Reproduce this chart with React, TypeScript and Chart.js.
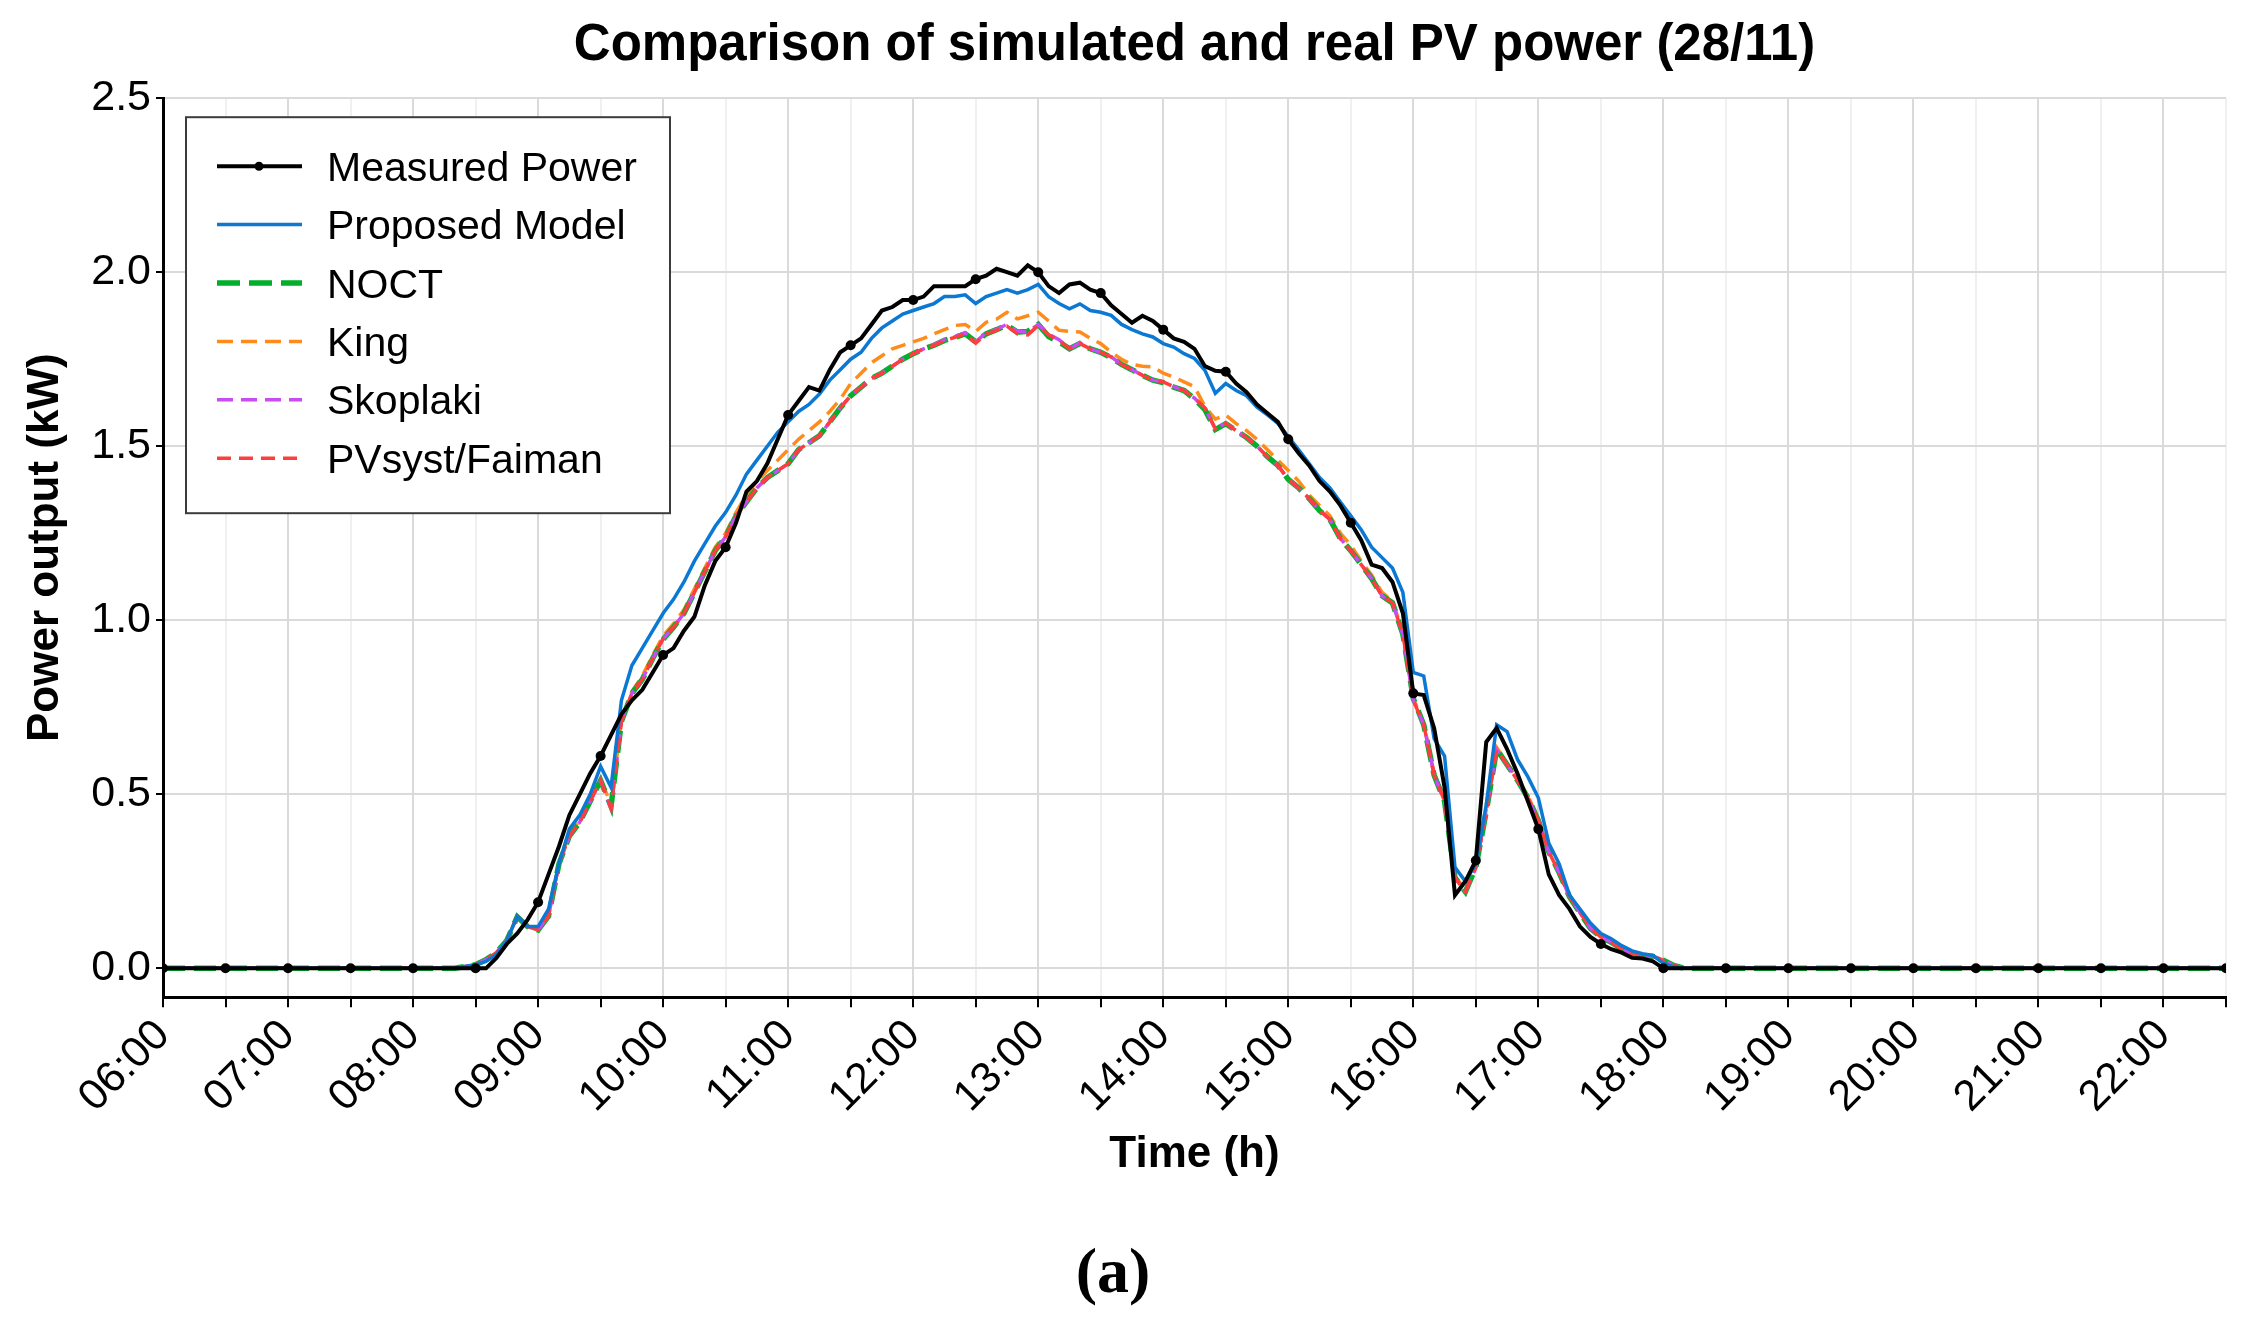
import React, { useEffect, useRef } from 'react';
import { Chart, registerables } from 'chart.js';

Chart.register(...registerables);

// ---------------- data ----------------
const titleText = 'Comparison of simulated and real PV power (28/11)';
const xTitle = 'Time (h)';
const yTitle = 'Power output (kW)';
const panelLabel = '(a)';

const seriesNames = ['Measured Power', 'Proposed Model', 'NOCT', 'King', 'Skoplaki', 'PVsyst/Faiman'];

// daytime samples: every 5 minutes starting 08:00
const dayStartHour = 8;
const stepMinutes = 5;

// night-time samples (hours) and their power (kW)
const nightMorningHours = [6, 6.5, 7, 7.5];
const nightMorningPower = [0, 0, 0, 0];
const nightEveningHours = [18.5, 19, 19.5, 20, 20.5, 21, 21.5, 22, 22.5];
const nightEveningPower = [0, 0, 0, 0, 0, 0, 0, 0, 0];

const measured = [
  0, 0, 0, 0, 0, 0, 0, 0, 0.03, 0.07, 0.10, 0.14,
  0.19, 0.27, 0.35, 0.44, 0.50, 0.56, 0.61, 0.67, 0.73, 0.77, 0.80, 0.85,
  0.90, 0.92, 0.97, 1.01, 1.10, 1.17, 1.21, 1.28, 1.37, 1.40, 1.45, 1.52,
  1.59, 1.63, 1.67, 1.66, 1.72, 1.77, 1.79, 1.81, 1.85, 1.89, 1.90, 1.92,
  1.92, 1.93, 1.96, 1.96, 1.96, 1.96, 1.98, 1.99, 2.01, 2.00, 1.99, 2.02,
  2.00, 1.96, 1.94, 1.965, 1.97, 1.95, 1.94, 1.905, 1.88, 1.855, 1.875, 1.86,
  1.835, 1.81, 1.80, 1.78, 1.73, 1.717, 1.714, 1.68, 1.655, 1.62, 1.595, 1.57,
  1.52, 1.48, 1.445, 1.40, 1.37, 1.33, 1.28, 1.23, 1.16, 1.15, 1.11, 1.02,
  0.79, 0.785, 0.69, 0.52, 0.21, 0.25, 0.31, 0.65, 0.69, 0.63, 0.56, 0.48,
  0.40, 0.27, 0.21, 0.17, 0.12, 0.09, 0.07, 0.055, 0.045, 0.03, 0.028, 0.02,
  0, 0, 0,
];

const proposed = [
  0, 0, 0, 0, 0, 0.005, 0.01, 0.02, 0.04, 0.08, 0.15, 0.12,
  0.12, 0.17, 0.30, 0.40, 0.44, 0.50, 0.58, 0.52, 0.77, 0.87, 0.92, 0.97,
  1.02, 1.06, 1.11, 1.17, 1.22, 1.27, 1.31, 1.36, 1.42, 1.46, 1.50, 1.54,
  1.57, 1.60, 1.62, 1.65, 1.69, 1.72, 1.75, 1.77, 1.81, 1.84, 1.86, 1.88,
  1.89, 1.90, 1.91, 1.93, 1.93, 1.935, 1.91, 1.93, 1.94, 1.95, 1.94, 1.95,
  1.965, 1.93, 1.91, 1.895, 1.909, 1.89, 1.885, 1.876, 1.85, 1.835, 1.823, 1.814,
  1.795, 1.785, 1.766, 1.752, 1.718, 1.652, 1.68, 1.66, 1.645, 1.612, 1.59, 1.566,
  1.528, 1.49, 1.45, 1.41, 1.38, 1.34, 1.30, 1.26, 1.21, 1.18, 1.15, 1.08,
  0.85, 0.84, 0.66, 0.61, 0.29, 0.25, 0.30, 0.47, 0.70, 0.68, 0.60, 0.55,
  0.49, 0.36, 0.30, 0.21, 0.17, 0.13, 0.10, 0.085, 0.065, 0.05, 0.042, 0.037,
  0.014, 0.005, 0,
];

const noct = [
  0, 0, 0, 0, 0, 0.005, 0.01, 0.025, 0.045, 0.08, 0.148, 0.12,
  0.11, 0.15, 0.30, 0.38, 0.42, 0.48, 0.54, 0.465, 0.71, 0.79, 0.83, 0.89,
  0.945, 0.98, 1.02, 1.08, 1.14, 1.20, 1.24, 1.30, 1.34, 1.38, 1.41, 1.43,
  1.45, 1.49, 1.51, 1.53, 1.57, 1.61, 1.645, 1.67, 1.695, 1.71, 1.73, 1.75,
  1.766, 1.78, 1.79, 1.804, 1.813, 1.823, 1.80, 1.823, 1.835, 1.848, 1.828, 1.83,
  1.85, 1.815, 1.80, 1.78, 1.795, 1.78, 1.77, 1.755, 1.735, 1.72, 1.704, 1.69,
  1.683, 1.67, 1.66, 1.636, 1.605, 1.548, 1.565, 1.545, 1.525, 1.50, 1.47, 1.445,
  1.405, 1.38, 1.35, 1.315, 1.29, 1.235, 1.20, 1.16, 1.12, 1.07, 1.05, 0.96,
  0.775, 0.70, 0.555, 0.48, 0.26, 0.22, 0.29, 0.45, 0.63, 0.585, 0.54, 0.49,
  0.425, 0.335, 0.275, 0.205, 0.16, 0.115, 0.09, 0.075, 0.055, 0.042, 0.037, 0.034,
  0.023, 0.008, 0,
];

const king = [
  0, 0, 0, 0, 0, 0.005, 0.01, 0.025, 0.045, 0.08, 0.15, 0.12,
  0.11, 0.15, 0.30, 0.385, 0.425, 0.485, 0.545, 0.47, 0.715, 0.795, 0.84, 0.90,
  0.955, 0.99, 1.03, 1.09, 1.15, 1.21, 1.25, 1.31, 1.36, 1.40, 1.43, 1.46,
  1.49, 1.52, 1.545, 1.57, 1.60, 1.635, 1.68, 1.71, 1.74, 1.76, 1.78, 1.79,
  1.80, 1.81, 1.823, 1.835, 1.847, 1.85, 1.83, 1.856, 1.865, 1.885, 1.866, 1.875,
  1.885, 1.86, 1.833, 1.83, 1.828, 1.81, 1.795, 1.77, 1.75, 1.735, 1.73, 1.728,
  1.71, 1.699, 1.685, 1.671, 1.614, 1.578, 1.59, 1.565, 1.545, 1.52, 1.49, 1.46,
  1.43, 1.40, 1.36, 1.33, 1.30, 1.25, 1.215, 1.17, 1.13, 1.08, 1.055, 0.965,
  0.775, 0.705, 0.56, 0.485, 0.265, 0.225, 0.295, 0.455, 0.635, 0.59, 0.545, 0.495,
  0.43, 0.34, 0.28, 0.21, 0.165, 0.12, 0.092, 0.077, 0.057, 0.044, 0.038, 0.035,
  0.024, 0.008, 0,
];

const skoplaki = [
  0, 0, 0, 0, 0, 0.005, 0.01, 0.025, 0.045, 0.08, 0.15, 0.12,
  0.11, 0.15, 0.30, 0.38, 0.42, 0.48, 0.54, 0.46, 0.71, 0.79, 0.83, 0.89,
  0.947, 0.98, 1.02, 1.08, 1.14, 1.20, 1.24, 1.30, 1.34, 1.38, 1.41, 1.43,
  1.45, 1.49, 1.51, 1.53, 1.57, 1.61, 1.645, 1.67, 1.695, 1.71, 1.73, 1.75,
  1.766, 1.78, 1.792, 1.806, 1.815, 1.826, 1.80, 1.826, 1.836, 1.85, 1.83, 1.828,
  1.85, 1.822, 1.806, 1.78, 1.797, 1.78, 1.77, 1.757, 1.735, 1.72, 1.704, 1.69,
  1.685, 1.671, 1.66, 1.638, 1.61, 1.55, 1.566, 1.545, 1.525, 1.50, 1.47, 1.445,
  1.405, 1.38, 1.35, 1.315, 1.29, 1.235, 1.20, 1.16, 1.12, 1.07, 1.05, 0.96,
  0.77, 0.70, 0.555, 0.48, 0.26, 0.22, 0.29, 0.45, 0.628, 0.585, 0.54, 0.49,
  0.425, 0.335, 0.275, 0.205, 0.16, 0.115, 0.09, 0.075, 0.055, 0.042, 0.037, 0.034,
  0.023, 0.008, 0,
];

const pvsyst = [
  0, 0, 0, 0, 0, 0.005, 0.01, 0.025, 0.045, 0.08, 0.15, 0.12,
  0.11, 0.15, 0.30, 0.38, 0.42, 0.48, 0.54, 0.46, 0.71, 0.79, 0.83, 0.89,
  0.947, 0.98, 1.02, 1.08, 1.14, 1.20, 1.24, 1.30, 1.34, 1.38, 1.41, 1.43,
  1.45, 1.49, 1.51, 1.53, 1.57, 1.61, 1.645, 1.67, 1.695, 1.71, 1.73, 1.75,
  1.766, 1.78, 1.79, 1.804, 1.813, 1.823, 1.796, 1.823, 1.833, 1.845, 1.823, 1.82,
  1.847, 1.82, 1.804, 1.78, 1.795, 1.78, 1.77, 1.757, 1.735, 1.72, 1.704, 1.69,
  1.685, 1.671, 1.66, 1.638, 1.61, 1.55, 1.566, 1.545, 1.525, 1.50, 1.47, 1.445,
  1.405, 1.38, 1.35, 1.315, 1.29, 1.235, 1.20, 1.16, 1.12, 1.07, 1.05, 0.96,
  0.77, 0.70, 0.555, 0.48, 0.26, 0.22, 0.29, 0.45, 0.628, 0.585, 0.54, 0.49,
  0.425, 0.335, 0.275, 0.205, 0.16, 0.115, 0.09, 0.075, 0.055, 0.042, 0.037, 0.034,
  0.023, 0.008, 0,
];

const xTickHours = [
  6, 6.5, 7, 7.5, 8, 8.5, 9, 9.5, 10, 10.5, 11, 11.5, 12, 12.5, 13, 13.5, 14,
  14.5, 15, 15.5, 16, 16.5, 17, 17.5, 18, 18.5, 19, 19.5, 20, 20.5, 21, 21.5, 22, 22.5,
];
const yTicks = [0, 0.5, 1.0, 1.5, 2.0, 2.5];

// ---------------- helpers ----------------
const FONT = "'Liberation Sans', Arial, Helvetica, sans-serif";

function toPoints(values: number[]) {
  const pts: { x: number; y: number }[] = [];
  nightMorningHours.forEach((h, i) => pts.push({ x: h, y: nightMorningPower[i] }));
  values.forEach((v, i) => pts.push({ x: dayStartHour + (i * stepMinutes) / 60, y: v }));
  nightEveningHours.forEach((h, i) => pts.push({ x: h, y: nightEveningPower[i] }));
  return pts;
}

function isHalfHour(x: number) {
  return Math.abs(x * 2 - Math.round(x * 2)) < 1e-6;
}

function hourLabel(v: number) {
  const h = Math.round(v);
  return (h < 10 ? '0' : '') + h + ':00';
}

const legendPlugin = {
  id: 'boxLegend',
  afterDatasetsDraw(chart: any) {
    const ctx = chart.ctx as CanvasRenderingContext2D;
    const { left, top } = chart.chartArea;
    const bx = left + 23;
    const by = top + 19;
    const bw = 484;
    const bh = 396;
    ctx.save();
    ctx.fillStyle = '#ffffff';
    ctx.fillRect(bx, by, bw, bh);
    ctx.strokeStyle = '#3c3c3c';
    ctx.lineWidth = 2;
    ctx.setLineDash([]);
    ctx.strokeRect(bx, by, bw, bh);
    const order = [0, 1, 2, 3, 4, 5];
    order.forEach((i, row) => {
      const ds = chart.data.datasets[i];
      const y = by + 49 + row * 58.4;
      ctx.save();
      ctx.strokeStyle = ds.borderColor;
      ctx.lineWidth = ds.legendLineWidth || ds.borderWidth;
      ctx.setLineDash(ds.legendDash || ds.borderDash || []);
      ctx.lineCap = 'butt';
      ctx.beginPath();
      ctx.moveTo(bx + 31, y);
      ctx.lineTo(bx + 116, y);
      ctx.stroke();
      if (ds.legendMarker) {
        ctx.setLineDash([]);
        ctx.fillStyle = ds.borderColor;
        ctx.beginPath();
        ctx.arc(bx + 73, y, 4.5, 0, Math.PI * 2);
        ctx.fill();
      }
      ctx.restore();
      ctx.fillStyle = '#000';
      ctx.font = `41px ${FONT}`;
      ctx.textBaseline = 'alphabetic';
      ctx.textAlign = 'left';
      ctx.fillText(seriesNames[i], bx + 141, y + 41 * 0.358);
    });
    ctx.restore();
  },
};

export default function App() {
  const ref = useRef<HTMLCanvasElement | null>(null);

  useEffect(() => {
    document.body.style.margin = '0';
    const canvas = ref.current;
    if (!canvas) return;
    Chart.defaults.font.family = FONT;
    Chart.defaults.color = '#000';

    const chart = new Chart(canvas, {
      type: 'line',
      data: {
        datasets: [
          {
            label: seriesNames[0],
            data: toPoints(measured),
            borderColor: '#000000',
            backgroundColor: '#000000',
            borderWidth: 4,
            pointRadius: (c: any) => (c.raw && isHalfHour(c.raw.x) ? 5 : 0),
            pointBackgroundColor: '#000000',
            pointBorderWidth: 0,
            order: 0,
            legendMarker: true,
            legendLineWidth: 4,
          } as any,
          {
            label: seriesNames[1],
            data: toPoints(proposed),
            borderColor: '#0b78d4',
            borderWidth: 3.5,
            pointRadius: 0,
            order: 1,
          } as any,
          {
            label: seriesNames[2],
            data: toPoints(noct),
            borderColor: '#00b02a',
            borderWidth: 5.5,
            borderDash: [22, 9],
            pointRadius: 0,
            order: 4,
            legendLineWidth: 5.5,
            legendDash: [23, 9],
          } as any,
          {
            label: seriesNames[3],
            data: toPoints(king),
            borderColor: '#ff8c1a',
            borderWidth: 3.5,
            borderDash: [15, 8],
            pointRadius: 0,
            order: 5,
            legendDash: [16, 8],
          } as any,
          {
            label: seriesNames[4],
            data: toPoints(skoplaki),
            borderColor: '#c94cf2',
            borderWidth: 3.5,
            borderDash: [15, 8],
            borderDashOffset: 8,
            pointRadius: 0,
            order: 3,
            legendDash: [16, 8],
          } as any,
          {
            label: seriesNames[5],
            data: toPoints(pvsyst),
            borderColor: '#ff3d3d',
            borderWidth: 3.5,
            borderDash: [14, 8],
            borderDashOffset: 3,
            pointRadius: 0,
            order: 2,
            legendDash: [14, 8],
          } as any,
        ],
      },
      options: {
        animation: false,
        responsive: false,
        devicePixelRatio: 1,
        layout: { padding: { left: 0, right: 23, top: 0, bottom: 0 } },
        plugins: {
          legend: { display: false },
          tooltip: { enabled: false },
          title: {
            display: true,
            text: titleText,
            fullSize: false,
            color: '#000',
            font: { family: FONT, size: 51, weight: 'bold' },
            padding: { top: 15, bottom: 22 },
          },
          subtitle: {
            display: true,
            position: 'bottom',
            text: panelLabel,
            color: '#000',
            font: { family: "'Liberation Serif', 'Times New Roman', serif", size: 64, weight: 'bold' },
            padding: { top: 11, bottom: 19 },
          },
        },
        scales: {
          x: {
            type: 'linear',
            min: 6,
            max: 22.5,
            afterBuildTicks: (s: any) => {
              s.ticks = xTickHours.map((v) => ({ value: v }));
            },
            afterFit: (s: any) => {
              s.height = 229;
              s.paddingRight = 0;
            },
            ticks: {
              autoSkip: false,
              maxRotation: 45,
              minRotation: 45,
              padding: 3,
              color: '#000',
              font: { family: FONT, size: 43 },
              callback: (v: any) => (Number.isInteger(v) ? hourLabel(v) : ''),
            },
            grid: {
              color: (c: any) => (c.tick && Number.isInteger(c.tick.value) ? '#dadada' : '#f0f0f0'),
              lineWidth: 2,
              tickColor: '#000',
              tickLength: 10,
              tickWidth: 2,
            },
            border: { color: '#000', width: 3 },
            title: {
              display: true,
              text: xTitle,
              color: '#000',
              font: { family: FONT, size: 44, weight: 'bold' },
              padding: { top: 0, bottom: 45 },
            },
          },
          y: {
            type: 'linear',
            min: -0.083,
            max: 2.5,
            afterBuildTicks: (s: any) => {
              s.ticks = yTicks.map((v) => ({ value: v }));
            },
            afterFit: (s: any) => {
              s.width = 163;
            },
            ticks: {
              padding: 5,
              color: '#000',
              font: { family: FONT, size: 43 },
              callback: (v: any) => Number(v).toFixed(1),
            },
            grid: {
              color: '#dadada',
              lineWidth: 2,
              tickColor: '#000',
              tickLength: 7,
              tickWidth: 2,
            },
            border: { color: '#000', width: 3 },
            title: {
              display: true,
              text: yTitle,
              color: '#000',
              font: { family: FONT, size: 44, weight: 'bold' },
              padding: { top: 19, bottom: 0 },
            },
          },
        },
      } as any,
      plugins: [legendPlugin],
    });

    return () => {
      chart.destroy();
    };
  }, []);

  return (
    <div style={{ width: 2249, height: 1333, background: '#fff' }}>
      <canvas ref={ref} width={2249} height={1333} style={{ display: 'block', width: 2249, height: 1333 }} />
    </div>
  );
}
